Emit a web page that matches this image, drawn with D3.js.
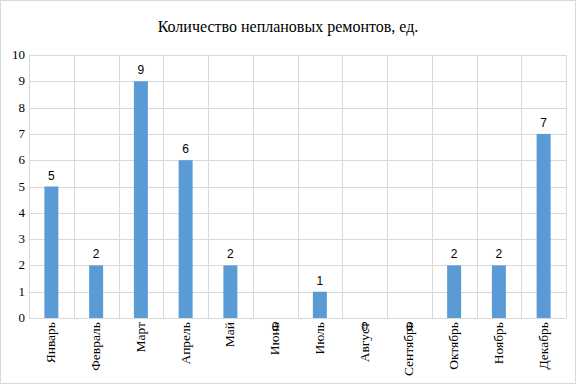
<!DOCTYPE html>
<html><head><meta charset="utf-8">
<script src="https://cdn.jsdelivr.net/npm/d3@7"></script>
<style>body{margin:0;background:#fff}svg{display:block}text{font-family:"Liberation Serif","Times New Roman",serif}text.val{font-family:"Liberation Sans",Arial,sans-serif}</style>
</head><body>
<script>
const categories = ["Январь","Февраль","Март","Апрель","Май","Июнь","Июль","Август","Сентябрь","Октябрь","Ноябрь","Декабрь"];
const values = [5,2,9,6,2,0,1,0,0,2,2,7];
const yTicks = [0,1,2,3,4,5,6,7,8,9,10];
const title = "Количество неплановых ремонтов, ед.";

const W=576,H=384;
const svg=d3.select("body").append("svg").attr("width",W).attr("height",H);
svg.append("rect").attr("x",0.5).attr("y",0.5).attr("width",W-1).attr("height",H-1).attr("fill","#fff").attr("stroke","#d9d9d9");
const m={l:29,r:10,t:55,b:66};
const x=d3.scaleBand().domain(categories).range([m.l,W-m.r]).paddingInner(0).paddingOuter(0);
const y=d3.scaleLinear().domain([0,10]).range([H-m.b,m.t]);
svg.append("text").attr("x",288).attr("y",32).attr("text-anchor","middle").attr("font-size",16).attr("fill","#000").text(title);
// grid
svg.append("g").selectAll("line").data(yTicks).join("line")
 .attr("x1",m.l).attr("x2",W-m.r).attr("y1",d=>Math.round(y(d))+0.5).attr("y2",d=>Math.round(y(d))+0.5).attr("stroke","#d9d9d9");
const xs=categories.map(c=>x(c)).concat([W-m.r]);
svg.append("g").selectAll("line").data(xs).join("line")
 .attr("x1",d=>Math.round(d)+0.5).attr("x2",d=>Math.round(d)+0.5).attr("y1",m.t).attr("y2",y(0)).attr("stroke","#d9d9d9");
// y labels
svg.append("g").selectAll("text").data(yTicks).join("text")
 .attr("x",m.l-4).attr("y",d=>y(d)+4).attr("text-anchor","end").attr("font-size",13).attr("fill","#000").text(d=>d);
// bars
const bw=14;
svg.append("g").selectAll("rect").data(values).join("rect")
 .attr("x",(d,i)=>x(categories[i])+x.bandwidth()/2-bw/2).attr("width",bw)
 .attr("y",d=>y(d)).attr("height",d=>y(0)-y(d)).attr("fill","#5B9BD5");
// value labels
svg.append("g").selectAll("text").data(values).join("text").attr("class","val")
 .attr("x",(d,i)=>x(categories[i])+x.bandwidth()/2)
 .attr("y",d=>d===0?y(0)+13:y(d)-7).attr("text-anchor","middle").attr("font-size",12).attr("fill","#000").text(d=>d);
// category labels
svg.append("g").selectAll("text").data(categories).join("text")
 .attr("transform",c=>`translate(${x(c)+x.bandwidth()/2+4},${y(0)+4}) rotate(-90)`)
 .attr("text-anchor","end").attr("font-size",13.5).attr("fill","#000").text(c=>c);
</script>
</body></html>
